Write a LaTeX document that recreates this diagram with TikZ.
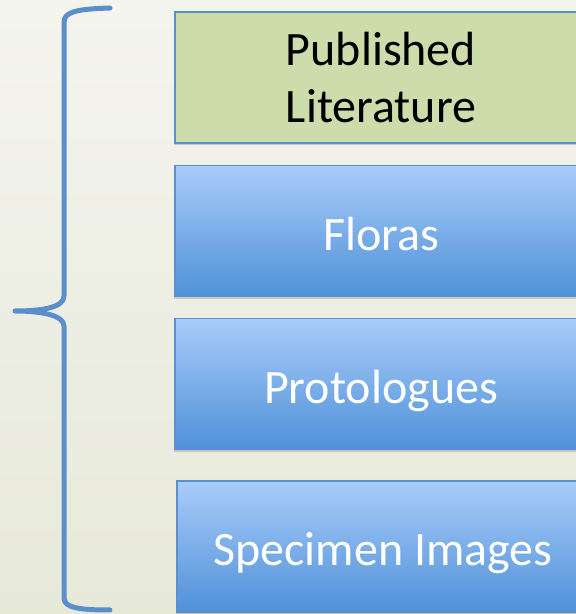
\documentclass[tikz,border=0pt]{standalone}
\usepackage{fontspec}
\setmainfont{Carlito}
\usetikzlibrary{shadows}

\definecolor{bracecol}{HTML}{5B8FCB}
\definecolor{boxline}{HTML}{5B8FCF}
\definecolor{litgreen}{HTML}{CCDCAB}
\definecolor{bluetop}{HTML}{A9CCFA}
\definecolor{bluebot}{HTML}{4F91D8}
\definecolor{bgtop}{HTML}{F4F4EE}
\definecolor{bgbot}{HTML}{E7E9D9}

\tikzset{
  source/.style={draw=boxline, line width=1.2pt, minimum width=412pt,
    minimum height=131pt, inner sep=0pt, align=center,
    font=\fontsize{48}{57}\selectfont,
    drop shadow={shadow xshift=-1.5pt, shadow yshift=-2.5pt, opacity=0.35}},
  litbox/.style={source, fill=litgreen, text=black},
  bluebox/.style={source, top color=bluetop, bottom color=bluebot, text=white,
    text height=51pt, text depth=12pt},
}

\begin{document}
\begin{tikzpicture}[x=1pt, y=1pt]
% background
\shade[top color=bgtop, bottom color=bgbot] (0,0) rectangle (576,614);
\useasboundingbox (0,0) rectangle (576,614);

\node (lit) [litbox] at (381,536.5) {Published\\Literature};
\node (floras) [bluebox] at (381,383) {Floras};
\node (proto) [bluebox] at (381,230) {Protologues};
\node (spec) [bluebox] at (383,67.5) {Specimen Images};

% brace
\draw[bracecol, line width=5pt, line cap=round, line join=round]
  (110,606) .. controls (80,605) and (64,603) .. (64,592)
  -- (64,318)
  .. controls (64,306) and (40,303) .. (15,303)
  .. controls (40,303) and (64,299) .. (64,288)
  -- (64,16)
  .. controls (64,6) and (80,4) .. (110,4);
\end{tikzpicture}
\end{document}
